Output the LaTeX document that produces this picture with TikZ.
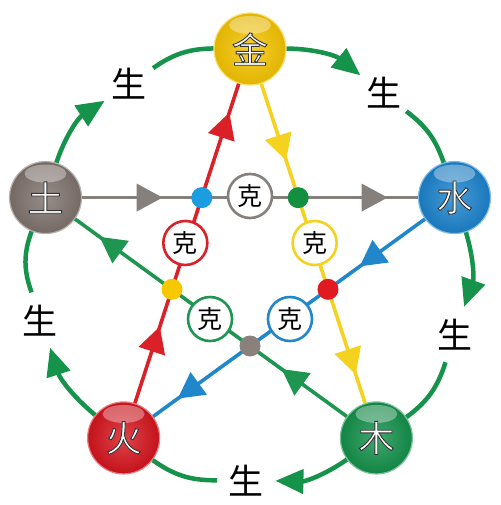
\documentclass[tikz,border=0pt]{standalone}
\usepackage{fontspec}
\newfontfamily\cjk{Noto Sans CJK SC}
\usetikzlibrary{arrows.meta,decorations.markings}

\definecolor{jinc}{HTML}{F5C400}
\definecolor{shuic}{HTML}{1B82CC}
\definecolor{muc}{HTML}{13904A}
\definecolor{huoc}{HTML}{D5141D}
\definecolor{tuc}{HTML}{7E726C}
\definecolor{shenggreen}{HTML}{16934A}
\definecolor{kered}{HTML}{DA2128}
\definecolor{keyellow}{HTML}{F4D21F}
\definecolor{kegray}{HTML}{86807D}
\definecolor{kegreen}{HTML}{1E9550}
\definecolor{keblue}{HTML}{2187CB}
\definecolor{dotblue}{HTML}{1C9DE2}
\definecolor{dotgreen}{HTML}{12903F}
\definecolor{dotred}{HTML}{E11A22}
\definecolor{dotgray}{HTML}{8A817C}
\definecolor{dotyellow}{HTML}{F7C800}

% white glyph with a dark rim (fill and stroke)
\newcommand\rimtext[1]{\special{pdf:literal direct 2 Tr 0.9 w 0.2 0.2 0.2 RG}#1\special{pdf:literal direct 0 Tr}}

\tikzset{
  element/.style={circle, minimum size=72pt, inner sep=0pt, line width=1.2pt,
    draw=#1!55!white, inner color=#1!80!white, outer color=#1!92!black,
    text=white, font=\cjk\fontsize{36}{36}\selectfont,
    path picture={\fill[white, opacity=0.35]
      ([yshift=-12pt]path picture bounding box.north) ellipse [x radius=21pt, y radius=9pt];}},
  shengzi/.style={circle, minimum size=58pt, inner sep=0pt, font=\cjk\fontsize{35}{35}\selectfont},
  sheng/.style={draw=shenggreen, line width=4.5pt},
  shengtip/.style={-{Triangle[length=28pt,width=24pt]}},
  kexian/.style={draw=#1, color=#1, line width=3.6pt, postaction={decorate},
    decoration={markings,
      mark=at position 0.24 with {\arrow{Triangle[length=26pt,width=27pt]}},
      mark=at position 0.91 with {\arrow{Triangle[length=26pt,width=27pt]}}}},
  kezi/.style={circle, draw=#1, line width=2.6pt, fill=white, minimum size=44pt, inner sep=0pt,
    font=\cjk\fontsize{25}{25}\selectfont},
  dot/.style={circle, fill=#1, minimum size=21pt, inner sep=0pt}
}

\begin{document}
\begin{tikzpicture}[x=1pt,y=1pt]
  \useasboundingbox[fill=white] (-250,-241) rectangle (250,264);

  % the five elements
  \node[element=jinc] (jin) at (90:215) {\rimtext{金}};
  \node[element=shuic] (shui) at (18:215) {\rimtext{水}};
  \node[element=muc] (mu) at (-54:215) {\rimtext{木}};
  \node[element=huoc] (huo) at (-126:215) {\rimtext{火}};
  \node[element=tuc] (tu) at (162:215) {\rimtext{土}};

  \node[shengzi] (s1) at (52:217) {生};
  \node[shengzi] (s2) at (-19:217) {生};
  \node[shengzi] (s3) at (-91:217) {生};
  \node[shengzi] (s4) at (195:217) {生};
  \node[shengzi] (s5) at (124:217) {生};

  % ke: the star
  \draw[kexian=kegray] (tu) -- (shui);
  \draw[kexian=keyellow] (jin) -- (mu);
  \draw[kexian=kegreen] (mu) -- (tu);
  \draw[kexian=keblue] (shui) -- (huo);
  \draw[kexian=kered] (huo) -- (jin);

  % sheng: the circle
  \draw[sheng, shengtip] (jin) to[bend left=19] (s1);
  \draw[sheng] (s1) to[bend left=17] (shui);
  \draw[sheng, shengtip] (shui) to[bend left=18] (s2);
  \draw[sheng] (s2) to[bend left=18] (mu);
  \draw[sheng, shengtip] (mu) to[bend left=18] (s3);
  \draw[sheng] (s3) to[bend left=18] (huo);
  \draw[sheng, shengtip] (huo) to[bend left=16] (s4);
  \draw[sheng] (s4) to[bend left=20] (tu);
  \draw[sheng, shengtip] (tu) to[bend left=19] (s5);
  \draw[sheng] (s5) to[bend left=17] (jin);

  \node[dot=dotblue] (d1) at (126:82) {};
  \node[dot=dotgreen] (d2) at (54:82) {};
  \node[dot=dotred] (d3) at (-18:82) {};
  \node[dot=dotgray] (d4) at (-90:82) {};
  \node[dot=dotyellow] (d5) at (198:82) {};

  \node[kezi=kegray] (k1) at (90:68) {克};
  \node[kezi=keyellow] (k2) at (18:68) {克};
  \node[kezi=keblue] (k3) at (-54:68) {克};
  \node[kezi=kegreen] (k4) at (-126:68) {克};
  \node[kezi=kered] (k5) at (162:68) {克};
\end{tikzpicture}
\end{document}
